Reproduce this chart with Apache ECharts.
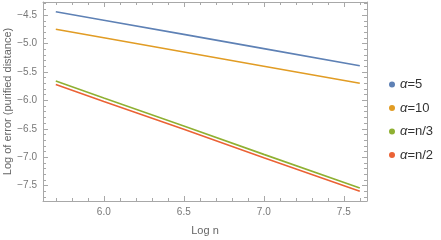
<!DOCTYPE html>
<html><head><meta charset="utf-8">
<script src="https://cdn.jsdelivr.net/npm/echarts@6/dist/echarts.min.js"></script>
<style>html,body{margin:0;padding:0;background:#fff}#c{width:441px;height:240px}</style>
</head><body><div id="c"></div>
<script>
var logN = [5.7, 6.0, 6.5, 7.0, 7.6];
var alpha5 = [-4.44, -4.59, -4.84, -5.09, -5.39];
var alpha10 = [-4.75, -4.90, -5.15, -5.40, -5.70];
var alphaN3 = [-5.66, -5.96, -6.45, -6.95, -7.54];
var alphaN2 = [-5.72, -6.02, -6.51, -7.01, -7.60];
var seriesNames = ['α=5', 'α=10', 'α=n/3', 'α=n/2'];
var xMajor = [6.0, 6.5, 7.0, 7.5];
var xMinor = [5.7, 5.8, 5.9, 6.1, 6.2, 6.3, 6.4, 6.6, 6.7, 6.8, 6.9, 7.1, 7.2, 7.3, 7.4, 7.6];
var yMajor = [-4.5, -5.0, -5.5, -6.0, -6.5, -7.0, -7.5];
var yMinor = [-4.3, -4.4, -4.6, -4.7, -4.8, -4.9, -5.1, -5.2, -5.3, -5.4, -5.6, -5.7, -5.8, -5.9,
  -6.1, -6.2, -6.3, -6.4, -6.6, -6.7, -6.8, -6.9, -7.1, -7.2, -7.3, -7.4, -7.6, -7.7];

var colors = ['#5E81B5', '#E19C24', '#8FB032', '#EB6235'];
var frame = '#a8a8a8';
var X0 = 5.62, X1 = 7.645, Y0 = -7.77, Y1 = -4.27;

function pairs(ys){ return logN.map(function(x,i){ return [x, ys[i]]; }); }
function fmt(v){ return v.toFixed(1).replace('-', '\u2212'); }

function xa(pos, vals, len, labels, line, name){
  return {
    type: 'value', position: pos, min: X0, max: X1,
    name: name || '', nameLocation: 'middle', nameGap: 24, nameMoveOverlap: false,
    nameTextStyle: {color: '#666', fontSize: 11, fontFamily: 'Liberation Sans, Arial, sans-serif'},
    axisLine: {show: line, onZero: false, lineStyle: {color: frame, width: 1}},
    axisTick: {show: true, inside: true, length: len, customValues: vals, lineStyle: {color: frame}},
    axisLabel: {show: labels, customValues: vals, formatter: fmt, color: '#777', fontSize: 10, margin: 6,
      fontFamily: 'Liberation Sans, Arial, sans-serif'},
    splitLine: {show: false}
  };
}
function ya(pos, vals, len, labels, line, name){
  return {
    type: 'value', position: pos, min: Y0, max: Y1,
    name: name || '', nameLocation: 'middle', nameGap: 30, nameMoveOverlap: false,
    nameTextStyle: {color: '#666', fontSize: 11, fontFamily: 'Liberation Sans, Arial, sans-serif'},
    axisLine: {show: line, onZero: false, lineStyle: {color: frame, width: 1}},
    axisTick: {show: true, inside: true, length: len, customValues: vals, lineStyle: {color: frame}},
    axisLabel: {show: labels, customValues: vals, formatter: fmt, color: '#777', fontSize: 10, margin: 6,
      fontFamily: 'Liberation Sans, Arial, sans-serif'},
    splitLine: {show: false}
  };
}

var data = [alpha5, alpha10, alphaN3, alphaN2];
var chart = echarts.init(document.getElementById('c'), null, {renderer: 'canvas'});
chart.setOption({
  animation: false,
  color: colors,
  grid: {left: 43, right: 74, top: 2, bottom: 39, containLabel: false, outerBoundsMode: 'none'},
  legend: {
    orient: 'vertical', left: 384, top: 73, itemGap: 10.5,
    icon: 'circle', itemWidth: 6, itemHeight: 6,
    data: seriesNames,
    textStyle: {color: '#333', fontSize: 13, fontFamily: 'Liberation Sans, Arial, sans-serif',
      rich: {i: {fontStyle: 'italic', fontSize: 13, color: '#333', fontFamily: 'Liberation Sans, Arial, sans-serif'}}},
    formatter: function(n){ return n.replace('α', '{i|α}'); }
  },
  xAxis: [
    xa('bottom', xMajor, 5, true, true, 'Log n'),
    xa('bottom', xMinor, 3, false, false),
    xa('top', xMajor, 5, false, true),
    xa('top', xMinor, 3, false, false)
  ],
  yAxis: [
    ya('left', yMajor, 5, true, true, 'Log of error (purified distance)'),
    ya('left', yMinor, 3, false, false),
    ya('right', yMajor, 5, false, true),
    ya('right', yMinor, 3, false, false)
  ],
  series: data.map(function(d, i){
    return {
      name: seriesNames[i], type: 'line', xAxisIndex: 0, yAxisIndex: 0,
      data: pairs(d), showSymbol: false, symbol: 'circle',
      lineStyle: {width: 1.6, color: colors[i]}, itemStyle: {color: colors[i]}
    };
  })
});
</script>
</body></html>
